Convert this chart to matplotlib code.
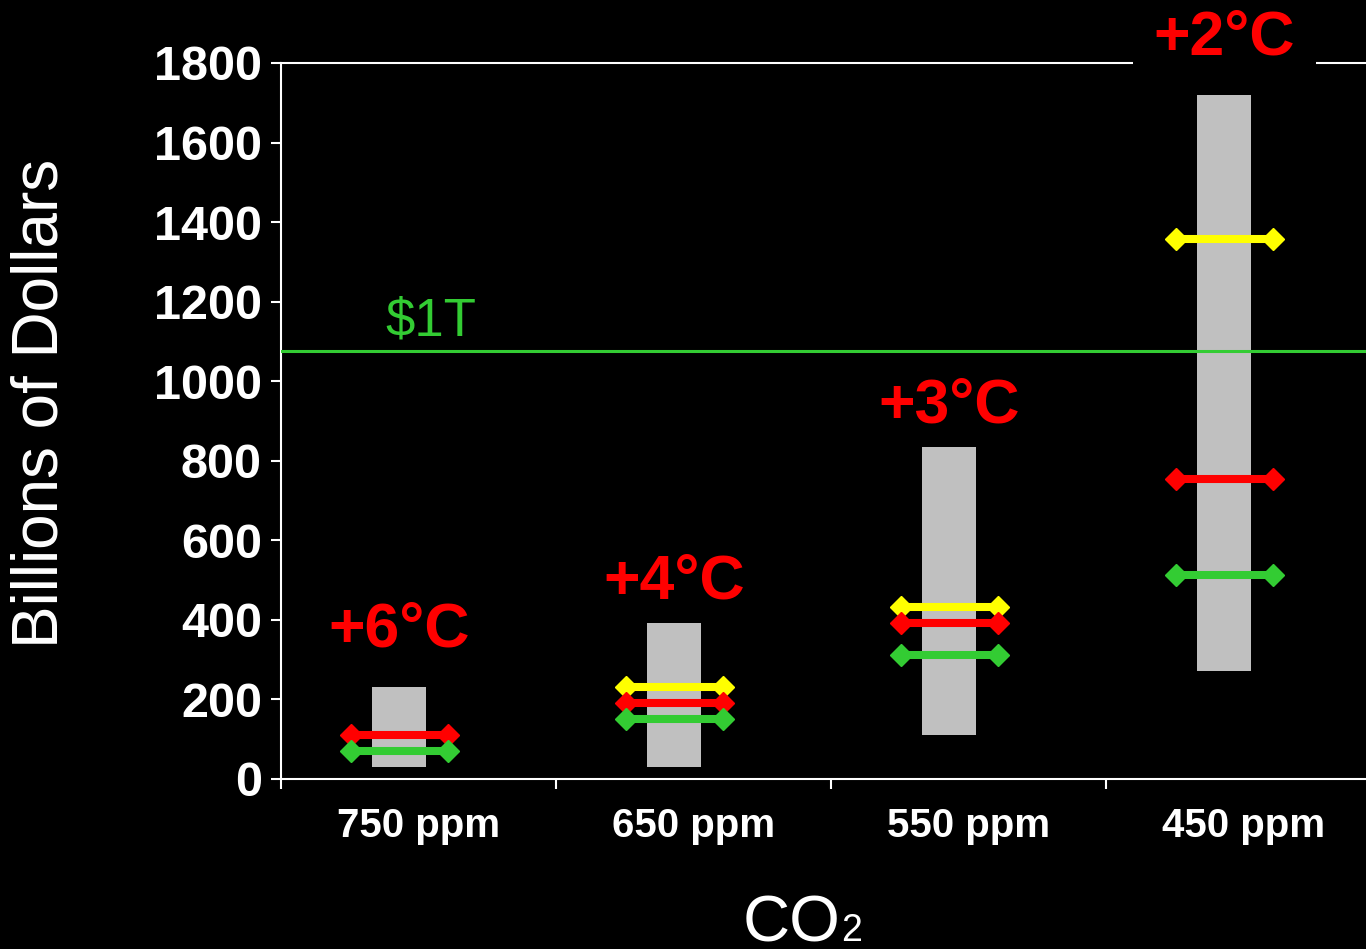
import numpy as np
import matplotlib
matplotlib.use('Agg')
import matplotlib.pyplot as plt

# data
categories = ['750 ppm', '650 ppm', '550 ppm', '450 ppm']
temp_labels = ['+6°C', '+4°C', '+3°C', '+2°C']
temp_label_y = [332, 455, 895, 1822]
range_low = [31, 31, 111, 272]
range_high = [231, 392, 835, 1720]
yellow_vals = [np.nan, 231, 432, 1357]
red_vals = [111, 191, 392, 755]
green_vals = [71, 151, 312, 513]
trillion_line = 1076

GRAY = '#C0C0C0'
YELLOW = '#FFFF00'
RED = '#FF0000'
GREEN = '#33CC33'

plt.rcParams['font.family'] = ['Liberation Sans', 'DejaVu Sans']

fig = plt.figure(figsize=(13.66, 9.49), dpi=100, facecolor='black')
ax = fig.add_axes([281 / 1366, 1 - 779 / 949, 1100 / 1366, 716 / 949])
ax.set_facecolor('black')

x = np.arange(len(categories)) + 0.5
shift = -0.07
bx = x + shift

ax.bar(bx, np.array(range_high) - np.array(range_low), bottom=range_low,
       width=0.196, color=GRAY, zorder=2)

ax.axhline(trillion_line, color=GREEN, lw=2.2, zorder=3)
ax.text(0.378, 1116, '$1T', color=GREEN, fontsize=38, va='baseline')

half = 0.176
for vals, col in [(yellow_vals, YELLOW), (red_vals, RED), (green_vals, GREEN)]:
    for xi, v in zip(bx, vals):
        if np.isnan(v):
            continue
        ax.plot([xi - half, xi + half], [v, v], color=col, lw=5.8,
                marker='D', markersize=11, zorder=4, solid_capstyle='butt')

for xi, lab, ty in zip(bx, temp_labels, temp_label_y):
    t = ax.text(xi, ty, lab, color=RED, fontsize=45, fontweight='bold',
                ha='center', va='baseline', zorder=6, clip_on=False)
    # the label above the frame hides the top line behind it
    if ty > 1800:
        t.set_bbox(dict(facecolor='black', edgecolor='none', pad=15))

ax.set_xlim(0, 4)
ax.set_ylim(0, 1800)
ax.set_yticks(np.arange(0, 1801, 200))
ax.set_yticklabels([str(v) for v in range(0, 1801, 200)])
ax.set_xticks(x)
ax.set_xticklabels(categories)
ax.set_xticks(np.arange(0, 5), minor=True)

for side in ['left', 'bottom', 'top']:
    ax.spines[side].set_color('white')
    ax.spines[side].set_linewidth(1.5)
ax.spines['right'].set_visible(False)

ax.tick_params(axis='y', colors='white', length=7.2, width=1.5, pad=6.5,
               labelsize=35)
ax.tick_params(axis='x', which='major', colors='white', length=0, pad=20,
               labelsize=29)
ax.tick_params(axis='x', which='minor', colors='white', length=7.2, width=1.5)
for lab in ax.get_yticklabels() + ax.get_xticklabels():
    lab.set_fontweight('bold')

fig.text(41 / 1366, 1 - 403 / 949, 'Billions of Dollars', color='white',
         fontsize=46, rotation=90, ha='center', va='center')
fig.text(840 / 1366, 1 - 941 / 949, 'CO', color='white', fontsize=47,
         ha='right', va='baseline')
fig.text(841 / 1366, 1 - 941 / 949, '2', color='white', fontsize=27,
         ha='left', va='baseline')

fig.savefig('out.png', dpi=100, facecolor='black')
